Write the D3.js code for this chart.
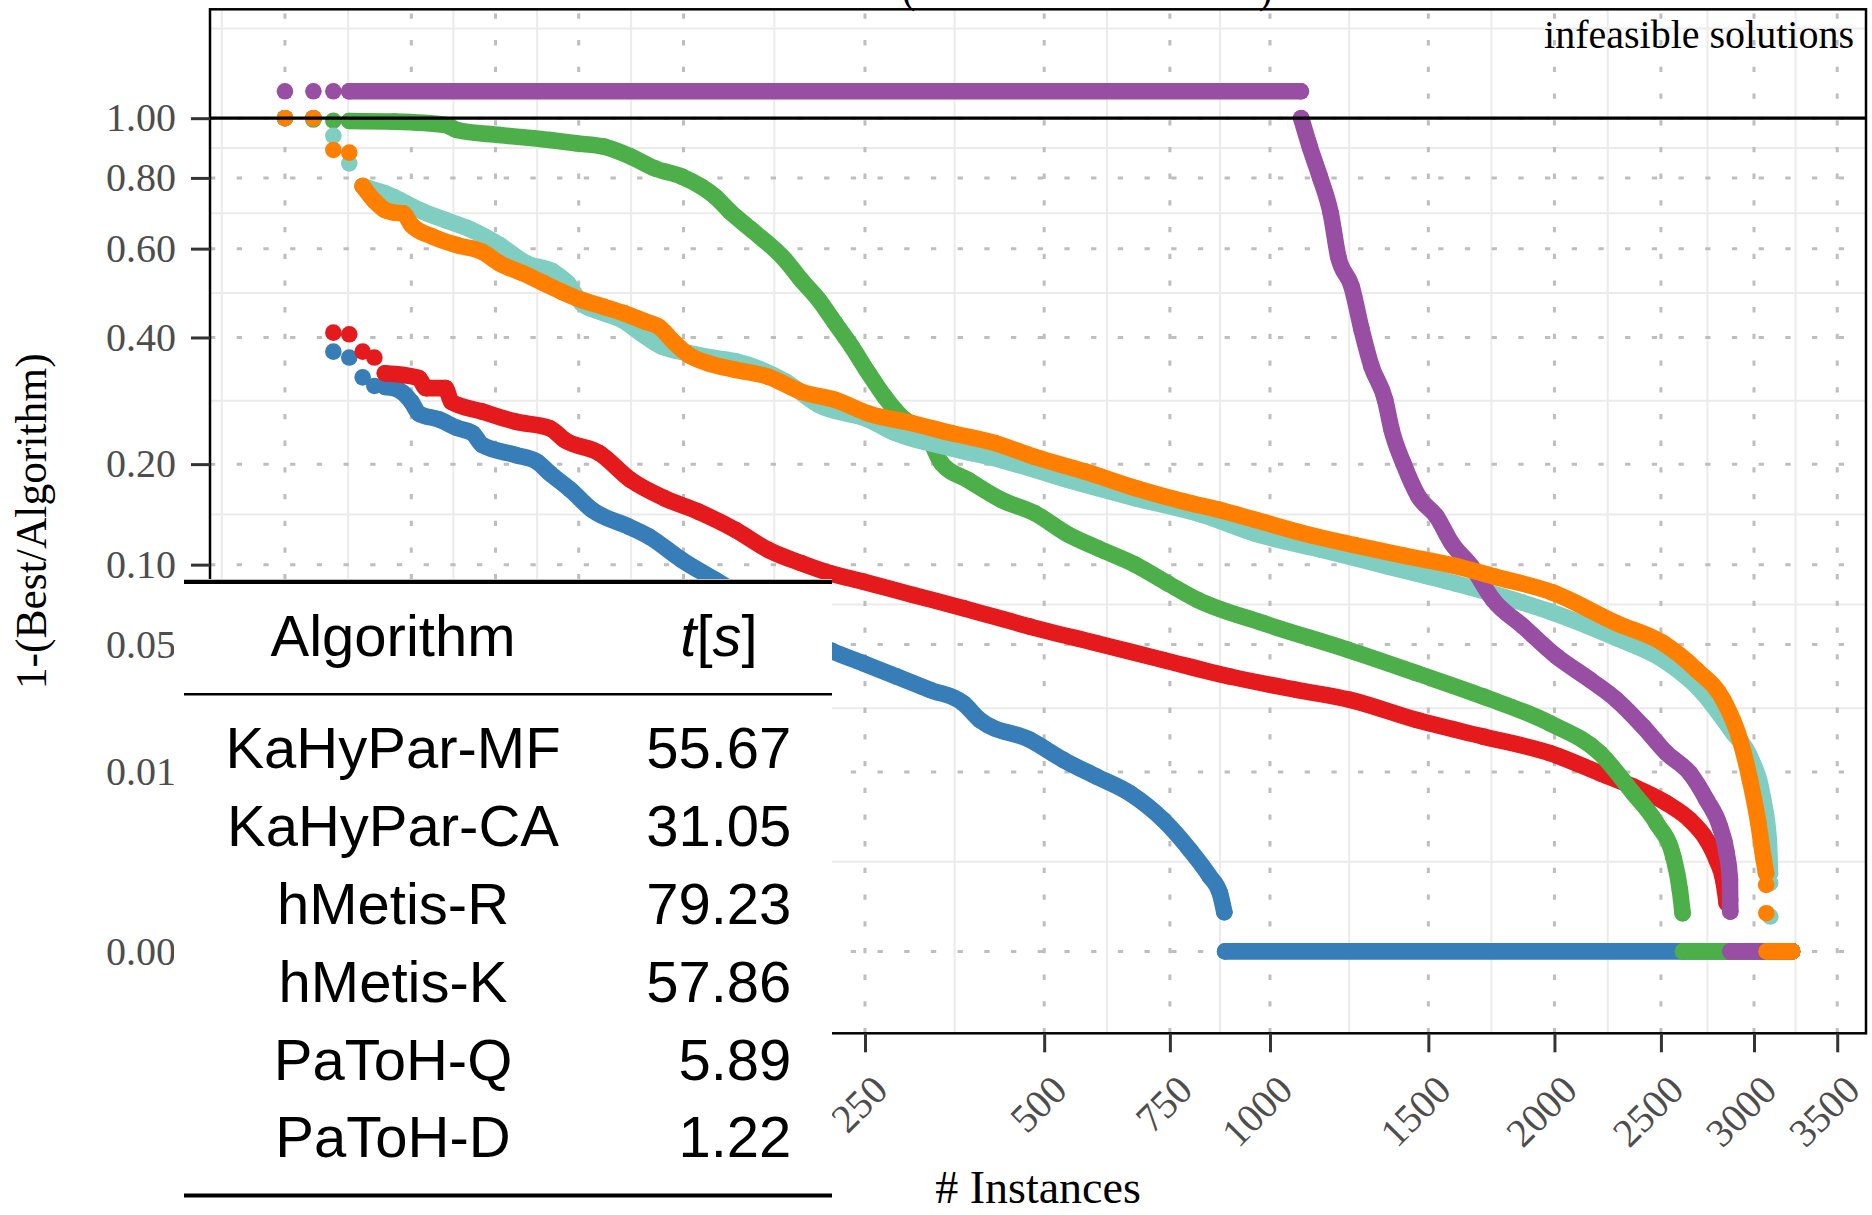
<!DOCTYPE html>
<html>
<head>
<meta charset="utf-8">
<script src="https://cdn.jsdelivr.net/npm/d3@7"></script>
<style>
  html, body { margin: 0; padding: 0; background: #fff; }
  svg { display: block; }
</style>
</head>
<body>
<div class="chart"></div>
<script>
// ---- data ----
const totalInstances = 3222;
const infeasibleValue = 1.1;
const xTicks = [1, 10, 25, 50, 100, 250, 500, 750, 1000, 1500, 2000, 2500, 3000, 3500];
const yTicks = [0, 0.01, 0.05, 0.1, 0.2, 0.4, 0.6, 0.8, 1];

const algorithms = ['KaHyPar-MF', 'KaHyPar-CA', 'hMetis-R', 'hMetis-K', 'PaToH-Q', 'PaToH-D'];
const runtimes = ['55.67', '31.05', '79.23', '57.86', '5.89', '1.22'];
const colors = ['#377eb8', '#e41a1c', '#4daf4a', '#984ea3', '#80cdc1', '#ff7f00'];
// first instance where the algorithm found the best solution (ratio 0)
const zeroStart = [882, 2850, 2613, 2868, 3096, 3073];

// [instance, 1 - best/algorithm]
const mfDots = [[1, 1], [2, 1], [3, 0.373], [4, 0.362], [5, 0.327], [6, 0.3125]];
const mfCurve = [[7, 0.311], [8, 0.309], [10, 0.287], [11, 0.269], [14, 0.26], [17, 0.248], [20, 0.2405],
  [22, 0.2245], [30, 0.2115], [36, 0.203], [40, 0.189], [47, 0.17], [55, 0.149], [71, 0.1325], [81, 0.1234],
  [99, 0.1037], [120, 0.0886], [217, 0.0466], [248, 0.0414], [286, 0.0359], [328, 0.0309], [373, 0.0264],
  [397, 0.0214], [476, 0.01635], [534, 0.01214], [596, 0.00923], [663, 0.00684], [735, 0.00393],
  [796, 0.00181], [844, 0.000724], [869, 0.00034], [880, 0.000104]];

const caDots = [[1, 1], [2, 1], [3, 0.4095], [4, 0.4063], [5, 0.373], [6, 0.362]];
const caCurve = [[7, 0.334], [9, 0.331], [11, 0.3255], [12, 0.309], [15, 0.309], [16, 0.287], [22, 0.272],
  [30, 0.257], [40, 0.2475], [45, 0.231], [58, 0.214], [72, 0.181], [89, 0.161], [109, 0.147], [134, 0.1294],
  [159, 0.1118], [187, 0.1011], [214, 0.0935], [248, 0.0874], [306, 0.0783], [373, 0.0699], [476, 0.0592],
  [596, 0.0506], [735, 0.0428], [894, 0.0359], [1075, 0.0309], [1236, 0.0275], [1459, 0.0214],
  [1706, 0.01713], [1981, 0.01345], [2205, 0.00978], [2363, 0.00774], [2529, 0.00562], [2649, 0.00393],
  [2738, 0.0024], [2792, 0.00132], [2828, 0.00063], [2847, 0.000193]];

const hmrDots = [[1, 1], [2, 0.995], [3, 0.991]];
const hmrCurve = [[4, 0.99], [8, 0.9875], [15, 0.976], [17, 0.958], [26, 0.9406], [40, 0.9235], [49, 0.9124],
  [60, 0.901], [72, 0.868], [84, 0.83], [99, 0.804], [111, 0.773], [120, 0.743], [130, 0.7], [146, 0.649],
  [173, 0.571], [187, 0.523], [203, 0.478], [219, 0.4285], [236, 0.382], [254, 0.334], [272, 0.295],
  [292, 0.264], [325, 0.236], [343, 0.201], [380, 0.181], [430, 0.159], [484, 0.1454], [540, 0.126],
  [600, 0.113], [674, 0.1], [746, 0.086], [815, 0.075], [982, 0.0611], [1230, 0.0474], [1459, 0.0372],
  [1706, 0.0286], [1981, 0.0205], [2205, 0.01345], [2363, 0.00684], [2478, 0.00364], [2563, 0.00147],
  [2597, 0.000402], [2611, 0.000096]];

const hmkDots = [[1, 1.1], [2, 1.1], [3, 1.1]];
const hmkInfeasible = [[4, 1.1], [1087, 1.1]];
const hmkCurve = [[1088, 1], [1113, 0.901], [1143, 0.804], [1176, 0.695], [1199, 0.58], [1241, 0.508],
  [1273, 0.415], [1305, 0.346], [1350, 0.29], [1372, 0.245], [1412, 0.201], [1464, 0.163], [1530, 0.142],
  [1585, 0.1176], [1661, 0.0985], [1745, 0.0751], [1868, 0.0592], [2010, 0.0443], [2159, 0.0346],
  [2283, 0.0275], [2412, 0.0196], [2529, 0.01345], [2649, 0.00978], [2738, 0.00601], [2810, 0.00336],
  [2847, 0.00164], [2865, 0.000632], [2866, 0.000236], [2867, 0.000109]];

const pqDots = [[1, 1], [2, 1], [3, 0.938], [4, 0.846], [3093, 0.000548], [3094, 0.000073]];
const pqCurve = [[5, 0.775], [6, 0.763], [7, 0.753], [8, 0.741], [11, 0.705], [15, 0.676], [19, 0.654],
  [26, 0.609], [33, 0.563], [41, 0.543], [46, 0.516], [51, 0.471], [58, 0.453], [68, 0.435], [77, 0.408],
  [88, 0.382], [103, 0.37], [120, 0.361], [134, 0.355], [173, 0.32], [203, 0.282], [254, 0.26], [280, 0.243],
  [357, 0.22], [430, 0.205], [543, 0.181], [674, 0.161], [824, 0.144], [960, 0.126], [1148, 0.112],
  [1361, 0.0985], [1598, 0.0862], [1861, 0.0735], [1981, 0.0678], [2283, 0.0531], [2512, 0.0428],
  [2720, 0.0297], [2883, 0.01795], [2977, 0.01278], [3053, 0.00601], [3085, 0.0024], [3092, 0.000826]];

const pdDots = [[1, 1], [2, 1], [3, 0.89], [4, 0.881], [3070, 0.000508], [3071, 0.0000963]];
const pdCurve = [[5, 0.775], [6, 0.731], [7, 0.7045], [8, 0.697], [9, 0.695], [10, 0.663], [13, 0.631],
  [17, 0.609], [22, 0.592], [26, 0.563], [32, 0.539], [38, 0.516], [44, 0.496], [51, 0.478], [60, 0.463],
  [69, 0.449], [79, 0.432], [86, 0.4215], [95, 0.389], [103, 0.367], [115, 0.352], [134, 0.34], [159, 0.328],
  [187, 0.303], [219, 0.29], [254, 0.269], [304, 0.255], [357, 0.2405], [420, 0.227], [484, 0.209],
  [574, 0.191], [674, 0.172], [785, 0.157], [865, 0.149], [960, 0.139], [1099, 0.126], [1250, 0.116],
  [1418, 0.107], [1598, 0.099], [1750, 0.091], [1990, 0.08], [2283, 0.0611], [2512, 0.0506], [2685, 0.0385],
  [2828, 0.0275], [2921, 0.01635], [2977, 0.00872], [3025, 0.00364], [3053, 0.00147], [3069, 0.000826]];

// ---- layout ----
const width = 1872;
const height = 1215;
const panel = { left: 210, right: 1866, top: 9.3, bottom: 1033.3 };
const dotR = 8.3;
const serif = "'Liberation Serif', 'Times New Roman', serif";
const sans = "'Liberation Sans', Arial, sans-serif";

const cbrt = v => (v < 0 ? -Math.pow(-v, 1 / 3) : Math.pow(v, 1 / 3));
const cube = t => t * t * t;

const x = d3.scalePow().exponent(1 / 3)
  .domain([0.0313, 3685])
  .range([panel.left, panel.right]);
const y = d3.scalePow().exponent(1 / 3)
  .domain([-0.00095, 1.4455])
  .range([panel.bottom, panel.top]);

const series = [
  { dots: mfDots, lines: [mfCurve] },
  { dots: caDots, lines: [caCurve] },
  { dots: hmrDots, lines: [hmrCurve] },
  { dots: hmkDots, lines: [hmkInfeasible, hmkCurve] },
  { dots: pqDots, lines: [pqCurve] },
  { dots: pdDots, lines: [pdCurve] },
].map((s, i) => {
  s.name = algorithms[i];
  s.color = colors[i];
  s.lines.push([[zeroStart[i], 0], [totalInstances, 0]]);
  return s;
});
// plotting order (later on top)
const drawOrder = ['KaHyPar-MF', 'KaHyPar-CA', 'hMetis-R', 'PaToH-Q', 'hMetis-K', 'PaToH-D'];

const svg = d3.select('.chart').append('svg')
  .attr('width', width)
  .attr('height', height);

svg.append('rect').attr('width', width).attr('height', height).attr('fill', '#fff');

// ggplot style minor breaks (midpoints in transformed space)
function minorBreaks(ticks, domain) {
  let b = ticks.map(cbrt);
  const lim = domain.map(cbrt);
  const bd = b[1] - b[0];
  if (lim[0] < b[0]) b = [b[0] - bd].concat(b);
  if (lim[1] > b[b.length - 1]) b = b.concat([b[b.length - 1] + bd]);
  const out = [];
  for (let i = 0; i < b.length - 1; i++) {
    const m = (b[i] + b[i + 1]) / 2;
    if (m > lim[0] && m < lim[1]) out.push(cube(m));
  }
  return out;
}

const grid = svg.append('g');
grid.selectAll('.xminor')
    .data(minorBreaks(xTicks, x.domain()))
  .enter().append('line')
    .attr('x1', d => x(d)).attr('x2', d => x(d))
    .attr('y1', panel.top).attr('y2', panel.bottom)
    .attr('stroke', '#ebebeb').attr('stroke-width', 2);
grid.selectAll('.yminor')
    .data(minorBreaks(yTicks, y.domain()))
  .enter().append('line')
    .attr('y1', d => y(d)).attr('y2', d => y(d))
    .attr('x1', panel.left).attr('x2', panel.right)
    .attr('stroke', '#ebebeb').attr('stroke-width', 2);
grid.selectAll('.xmajor')
    .data(xTicks)
  .enter().append('line')
    .attr('x1', d => x(d)).attr('x2', d => x(d))
    .attr('y1', panel.bottom).attr('y2', panel.top)
    .attr('stroke', '#bebebe').attr('stroke-width', 3)
    .attr('stroke-dasharray', '5.3 21.4');
grid.selectAll('.ymajor')
    .data(yTicks)
  .enter().append('line')
    .attr('y1', d => y(d)).attr('y2', d => y(d))
    .attr('x1', panel.left).attr('x2', panel.right)
    .attr('stroke', '#bebebe').attr('stroke-width', 3)
    .attr('stroke-dasharray', '5.3 21.4');

// data
const line = d3.line()
  .x(d => x(d[0]))
  .y(d => y(d[1]))
  .curve(d3.curveMonotoneX);

const plot = svg.append('g');
drawOrder.forEach(name => {
  const s = series.find(d => d.name === name);
  const g = plot.append('g').attr('class', 'series');
  g.selectAll('path')
      .data(s.lines)
    .enter().append('path')
      .attr('d', line)
      .attr('fill', 'none')
      .attr('stroke', s.color)
      .attr('stroke-width', dotR * 2)
      .attr('stroke-linecap', 'round')
      .attr('stroke-linejoin', 'round');
  g.selectAll('circle')
      .data(s.dots.concat(...s.lines))
    .enter().append('circle')
      .attr('cx', d => x(d[0]))
      .attr('cy', d => y(d[1]))
      .attr('r', dotR)
      .attr('fill', s.color);
});

// reference line at 1
svg.append('line')
  .attr('x1', panel.left).attr('x2', panel.right)
  .attr('y1', y(1)).attr('y2', y(1))
  .attr('stroke', '#000').attr('stroke-width', 3.2);

// panel border
svg.append('rect')
  .attr('x', panel.left).attr('y', panel.top)
  .attr('width', panel.right - panel.left)
  .attr('height', panel.bottom - panel.top)
  .attr('fill', 'none').attr('stroke', '#000').attr('stroke-width', 2.5);

// axes
const yAxis = svg.append('g')
    .attr('transform', `translate(${panel.left},0)`)
    .call(d3.axisLeft(y).tickValues(yTicks).tickSize(19).tickPadding(15).tickFormat(d3.format('.2f')));
const xAxis = svg.append('g')
    .attr('transform', `translate(0,${panel.bottom})`)
    .call(d3.axisBottom(x).tickValues(xTicks).tickSize(19).tickFormat(d3.format('d')));

[yAxis, xAxis].forEach(ax => {
  ax.select('.domain').remove();
  ax.selectAll('.tick line').attr('stroke', '#333').attr('stroke-width', 3);
  ax.selectAll('.tick text')
    .attr('fill', '#4d4d4d')
    .style('font-family', serif)
    .style('font-size', '40px');
});
xAxis.selectAll('.tick text')
    .attr('y', null)
    .attr('dy', '0.72em')
    .attr('text-anchor', 'end')
    .attr('transform', 'translate(4,38.7) rotate(-45)');

// titles
svg.append('text')
    .attr('x', (panel.left + panel.right) / 2)
    .attr('y', 1203)
    .attr('text-anchor', 'middle')
    .style('font-family', serif).style('font-size', '46px')
    .text('# Instances');
svg.append('text')
    .attr('transform', `translate(46,${(panel.top + panel.bottom) / 2}) rotate(-90)`)
    .attr('text-anchor', 'middle')
    .style('font-family', serif).style('font-size', '43.5px')
    .text('1-(Best/Algorithm)');
svg.append('text')
    .attr('x', 1854).attr('y', 47.7)
    .attr('text-anchor', 'end')
    .style('font-family', serif).style('font-size', '40px')
    .text('infeasible solutions');
// bottom of a cut-off heading above the panel
svg.append('text').attr('x', 902).attr('y', 3)
    .style('font-family', serif).style('font-size', '40px').text('(');
svg.append('text').attr('x', 1259).attr('y', 3)
    .style('font-family', serif).style('font-size', '40px').text(')');

// runtime table overlay
const table = svg.append('g');
table.append('rect')
    .attr('x', 174).attr('y', 579)
    .attr('width', 832 - 174).attr('height', height - 579)
    .attr('fill', '#fff');
[[581.8, 4.2], [694.2, 2.5], [1195.5, 4.2]].forEach(r => {
  table.append('line')
    .attr('x1', 184).attr('x2', 832)
    .attr('y1', r[0]).attr('y2', r[0])
    .attr('stroke', '#000').attr('stroke-width', r[1]);
});
const colName = 393;
const colTime = 791.3;
table.append('text')
    .attr('x', colName).attr('y', 656)
    .attr('text-anchor', 'middle')
    .style('font-family', sans).style('font-size', '58px')
    .text('Algorithm');
const th = table.append('text')
    .attr('x', 719).attr('y', 656)
    .attr('text-anchor', 'middle')
    .style('font-family', sans).style('font-size', '58px');
th.append('tspan').style('font-style', 'italic').text('t');
th.append('tspan').text('[');
th.append('tspan').style('font-style', 'italic').text('s');
th.append('tspan').text(']');

const rowY = d3.scaleLinear().domain([0, algorithms.length - 1]).range([768.4, 1157.3]);
table.selectAll('.alg')
    .data(algorithms)
  .enter().append('text')
    .attr('x', colName).attr('y', (d, i) => rowY(i))
    .attr('text-anchor', 'middle')
    .style('font-family', sans).style('font-size', '58px')
    .text(d => d);
table.selectAll('.time')
    .data(runtimes)
  .enter().append('text')
    .attr('x', colTime).attr('y', (d, i) => rowY(i))
    .attr('text-anchor', 'end')
    .style('font-family', sans).style('font-size', '58px')
    .text(d => d);
</script>
</body>
</html>
